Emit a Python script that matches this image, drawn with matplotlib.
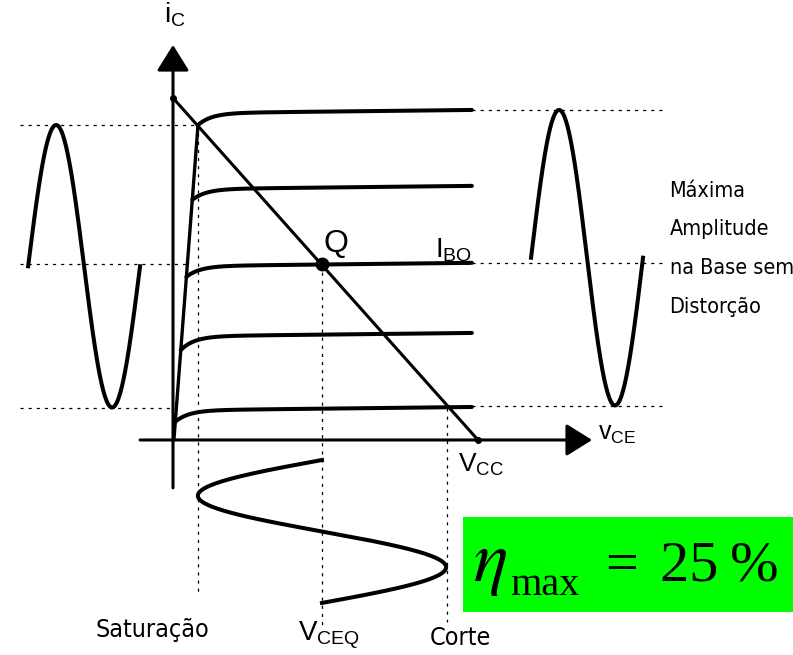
import numpy as np
import matplotlib.pyplot as plt
from matplotlib import font_manager
from matplotlib.patches import Rectangle

# a narrow sans if there is one, otherwise Liberation Sans at a smaller size
narrow = [f for f in font_manager.fontManager.ttflist
          if ('Narrow' in f.name or f.stretch in ('condensed', 'semi-condensed'))
          and f.style == 'normal' and f.weight in (400, 'normal')]


def label_font(size):
    if narrow:
        return font_manager.FontProperties(fname=narrow[0].fname, size=size)
    return font_manager.FontProperties(family='Liberation Sans', size=size * 0.85)


plt.rcParams['font.family'] = ['Liberation Sans', 'DejaVu Sans']
plt.rcParams['mathtext.fontset'] = 'stix'

# Circuit values (V, mA)
vcc = 10.0
ic_sat = 10.0
vce_q, ic_q = 4.885, 5.15

# Collector curves: current where each curve leaves the saturation line, and at its right end
curve_start = [9.21, 7.02, 4.77, 2.63, 0.535]
curve_end = [9.65, 7.43, 5.18, 3.13, 0.965]
curve_v_end = 9.8

# Saturation line (steep part of the curves)
sat_v = [0.03, 0.82]
sat_i = [0.0, 9.21]

# Base signal drawn on both sides (center, amplitude, start, period)
left_wave = (5.08, 4.13, -4.75, 3.67)
right_wave = (5.33, 4.32, 11.74, 3.67)
# Output voltage drawn below the axis (center, amplitude, start current, period)
bottom_wave = (4.885, 4.07, -0.585, 4.18)

# Limits of the swing
v_sat, v_cut = 0.82, 8.98
i_top_left, i_mid_left, i_bot_left = 9.21, 5.15, 0.94
i_top_right, i_mid_right, i_bot_right = 9.65, 5.18, 1.0

fig = plt.figure(figsize=(7.93, 6.55), dpi=100)
ax = fig.add_axes([0, 0, 1, 1])
ax.set_xlim(-5.672, 20.328)
ax.set_ylim(-6.287, 12.865)
ax.axis('off')

dot = dict(color='black', lw=0.9, linestyle=(0, (2.5, 4)))
lw_main = 2.9

# dotted guide lines
for lvl in [i_top_left, i_mid_left, i_bot_left]:
    ax.plot([-5.0, np.interp(lvl, sat_i, sat_v)], [lvl, lvl], **dot)
for lvl in [i_top_right, i_mid_right, i_bot_right]:
    ax.plot([curve_v_end, 16.1], [lvl, lvl], **dot)
ax.plot([v_sat, v_sat], [i_top_left, -4.53], **dot)
ax.plot([vce_q, vce_q], [ic_q, -5.41], **dot)
ax.plot([v_cut, v_cut], [i_bot_left, -5.32], **dot)

# axes with arrows
arr = dict(arrowstyle='-|>,head_length=0.8,head_width=0.5', lw=2.2, color='black',
           shrinkA=0, shrinkB=0, mutation_scale=20)
ax.annotate('', xy=(13.74, 0), xytext=(-1.08, 0), arrowprops=arr)
ax.annotate('', xy=(0, 11.55), xytext=(0, -1.40), arrowprops=arr)

# saturation line and collector curves
ax.plot(sat_v, sat_i, color='black', lw=2.4, solid_capstyle='round')
lam, tau = 0.01, 0.45
for i0, i1 in zip(curve_start, curve_end):
    vs = np.interp(i0, sat_i, sat_v)
    v = np.linspace(vs, curve_v_end, 300)
    base = i1 - lam * (curve_v_end - v)
    amp = base[0] - i0
    ax.plot(v, base - amp * np.exp(-(v - vs) / tau), color='black', lw=lw_main,
            solid_capstyle='round')

# load line
ax.plot([0, vcc], [ic_sat, 0], color='black', lw=2.2)
ax.plot([0, vcc], [ic_sat, 0], 'o', color='black', ms=4)
ax.plot([vce_q], [ic_q], 'o', color='black', ms=9)

# base signal waves
for c, a, v0, p in [left_wave, right_wave]:
    v = np.linspace(v0, v0 + p, 300)
    ax.plot(v, c + a * np.sin(2 * np.pi * (v - v0) / p), color='black', lw=lw_main)

c, a, i0, p = bottom_wave
i = np.linspace(i0, i0 - p, 300)
ax.plot(c - a * np.sin(2 * np.pi * (i0 - i) / p), i, color='black', lw=lw_main)

# labels
ax.text(-0.30, 12.22, r'$\mathregular{i_C}$', fontsize=20, ha='left', va='baseline')
ax.text(13.93, 0.0, r'$\mathregular{v_{CE}}$', fontsize=18, ha='left', va='baseline')
ax.text(9.34, -0.94, r'$\mathregular{V_{CC}}$', fontsize=19, ha='left', va='baseline')
ax.text(4.92, 5.50, 'Q', fontsize=23, ha='left', va='baseline')
ax.text(8.59, 5.35, r'$\mathregular{I_{BQ}}$', fontsize=20, ha='left', va='baseline')
ax.text(4.10, -5.85, r'$\mathregular{V_{CEQ}}$', fontsize=20, ha='left', va='baseline')
ax.text(-0.66, -5.76, 'Saturação', ha='center', va='baseline', fontproperties=label_font(18))
ax.text(9.41, -5.99, 'Corte', ha='center', va='baseline', fontproperties=label_font(18))

note = ['Máxima', 'Amplitude', 'na Base sem', 'Distorção']
for k, line in enumerate(note):
    ax.text(16.28, 7.11 - 1.13 * k, line, ha='left', va='baseline',
            fontproperties=label_font(15.5))

# efficiency box
ax.add_patch(Rectangle((9.51, -5.03), 11.0, 2.78, facecolor='#00ff00', edgecolor='none'))
ax.text(9.84, -4.12, r'$\eta$', fontsize=52, ha='left', va='baseline')
ax.text(11.05, -4.53, 'max', fontsize=29, ha='left', va='baseline', family='Liberation Serif')
ax.text(14.16, -4.12, '=', fontsize=42, ha='left', va='baseline', family='Liberation Serif')
ax.text(15.97, -4.12, '25\u2009%', fontsize=42, ha='left', va='baseline',
        family='Liberation Serif')

fig.savefig('out.png', dpi=100)
